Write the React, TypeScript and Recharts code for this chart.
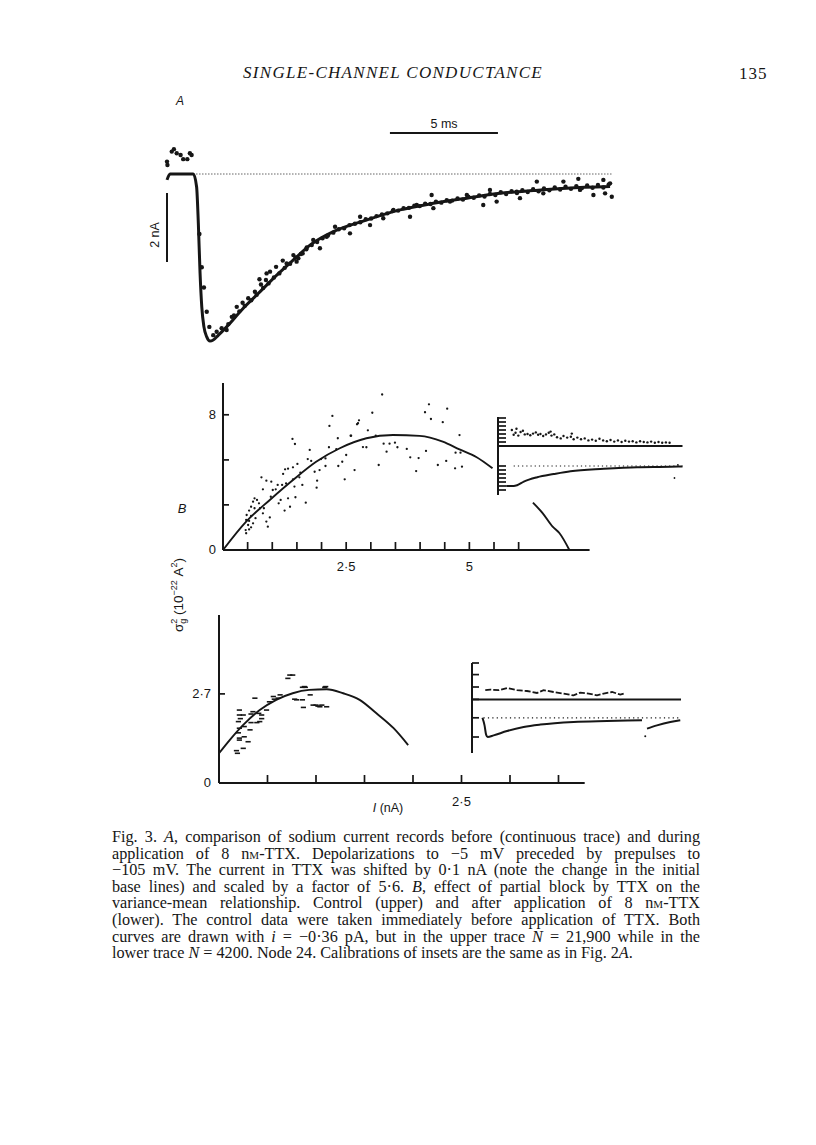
import React from "react";
import { ComposedChart, Line, Scatter, XAxis, YAxis, ReferenceLine } from "recharts";

// ---- Fig. 3A : current (nA) against time (ms) ----
const controlTrace: [number, number][] = [
  [0, -0.17], [0.14, 0], [1.22, 0], [1.37, -0.37], [1.45, -1.42], [1.53, -2.87], [1.61, -3.85],
  [1.71, -4.43], [1.84, -4.72], [1.99, -4.84], [2.14, -4.81], [2.38, -4.67], [2.76, -4.43],
  [3.53, -3.89], [4.31, -3.41], [5.08, -2.93], [5.85, -2.49], [6.62, -2.06], [7.7, -1.67],
  [9.25, -1.33], [10.79, -1.04], [12.33, -0.85], [13.88, -0.7], [15.42, -0.56], [16.96, -0.48],
  [18.5, -0.41], [20.51, -0.36],
];
const ttxDots: [number, number][] = [
  [0, 0.36], [0.02, 0.26], [0.22, 0.65], [0.32, 0.72], [0.45, 0.6], [0.63, 0.55], [0.75, 0.43],
  [0.94, 0.43], [1.06, 0.6], [1.14, 0.55],
  [1.5, -1.74], [1.61, -2.7], [1.71, -3.29], [1.84, -3.99], [1.96, -4.43], [2.14, -4.67],
  [2.3, -4.57], [2.53, -4.47], [2.76, -4.52], [2.84, -4.35], [3.0, -4.14],
  [3.23, -3.85], [3.5, -3.73], [3.76, -3.6], [4.07, -3.41], [4.28, -3.05], [4.35, -3.2],
  [4.58, -3.07], [4.61, -2.88], [4.77, -2.83], [5.05, -2.69], [5.36, -2.51], [5.54, -2.59],
  [5.85, -2.35], [6.0, -2.54], [6.08, -2.44], [6.28, -2.3], [6.47, -2.13], [6.77, -1.91],
  [7.08, -2.15], [7.39, -1.82], [7.78, -1.53], [8.47, -1.72], [8.94, -1.24], [9.4, -1.48],
  [10.01, -1.28], [10.48, -1.04], [11.25, -1.24], [11.56, -0.9], [12.25, -0.61], [12.33, -0.99],
  [13.1, -0.8], [13.88, -0.61], [14.64, -0.9], [14.95, -0.46], [15.26, -0.8], [16.19, -0.51],
  [16.34, -0.7], [17.12, -0.22], [17.42, -0.56], [18.35, -0.22], [19.04, -0.14], [19.12, -0.46],
  [19.74, -0.61], [20.2, -0.17], [20.28, -0.56], [20.51, -0.27], [20.59, -0.66],
  [3.1, -4.1], [3.35, -3.98], [3.6, -3.82], [3.9, -3.66], [4.15, -3.5], [4.45, -3.3],
  [4.7, -3.17], [4.95, -3.0], [5.2, -2.88], [5.45, -2.72], [5.7, -2.6], [5.95, -2.42],
  [6.2, -2.32], [6.45, -2.18], [6.7, -2.06], [6.95, -1.97], [7.2, -1.86], [7.45, -1.78],
  [7.7, -1.7], [7.95, -1.6], [8.2, -1.57], [8.45, -1.48], [8.7, -1.44], [8.95, -1.4],
  [9.2, -1.31], [9.45, -1.29], [9.7, -1.22], [9.95, -1.17], [10.2, -1.14], [10.45, -1.07],
  [10.7, -1.06], [10.95, -0.99], [11.2, -0.98], [11.45, -0.92], [11.7, -0.93], [11.95, -0.86],
  [12.2, -0.87], [12.45, -0.8], [12.7, -0.83], [12.95, -0.76], [13.2, -0.77], [13.45, -0.71],
  [13.7, -0.74], [13.95, -0.66], [14.2, -0.69], [14.45, -0.62], [14.7, -0.65], [14.95, -0.58],
  [15.2, -0.61], [15.45, -0.53], [15.7, -0.58], [15.95, -0.5], [16.2, -0.55], [16.45, -0.47],
  [16.7, -0.52], [16.95, -0.44], [17.2, -0.5], [17.45, -0.42], [17.7, -0.47], [17.95, -0.39],
  [18.2, -0.45], [18.45, -0.37], [18.7, -0.43], [18.95, -0.35], [19.2, -0.41], [19.45, -0.33],
  [19.7, -0.4], [19.95, -0.32], [20.2, -0.39], [20.45, -0.3],
];

// ---- Fig. 3B upper (control) : variance against mean current ----
const controlFitA: [number, number][] = [
  [0, 0], [0.47, 1.68], [0.95, 2.96], [1.42, 4.14], [1.89, 5.22], [2.37, 6.02], [2.91, 6.61],
  [3.45, 6.8], [3.99, 6.75], [4.46, 6.41], [4.8, 5.95], [5.14, 5.5], [5.47, 4.83],
];
const controlFitB: [number, number][] = [[6.29, 2.8], [6.49, 2.17], [6.69, 1.38], [6.83, 0.99], [7.03, 0]];
const controlVar: [number, number][] = [
  [2.22, 7.93], [2.16, 7.34], [1.41, 6.57], [1.46, 6.27], [2.33, 6.61], [1.76, 5.92], [2.15, 6.08],
  [2.3, 5.96], [2.5, 5.62], [2.59, 6.76], [2.74, 7.5], [1.72, 5.38], [1.79, 5.27], [1.99, 5.38],
  [2.08, 5.42], [2.08, 4.97], [1.96, 4.73], [1.86, 4.63], [1.91, 4.1], [1.9, 3.69], [2.42, 5.22],
  [2.67, 4.73], [2.47, 4.18], [1.51, 5.09], [1.42, 4.89], [1.32, 4.81], [1.26, 4.77], [1.22, 4.5],
  [1.57, 4.58], [1.55, 4.3], [1.61, 3.85], [1.45, 3.75], [1.42, 4.18], [1.28, 3.94], [1.2, 3.85],
  [1.11, 3.85], [1.07, 3.59], [0.98, 4.04], [1.01, 3.55], [0.88, 4.1], [0.81, 3.59], [0.78, 4.3],
  [0.97, 3.15], [1.32, 3.06], [1.47, 3.12], [1.36, 2.56], [1.25, 2.33], [1.17, 2.96], [1.13, 2.76],
  [1.68, 2.8], [0.64, 3.06], [0.61, 2.86], [0.69, 2.96], [0.73, 2.76], [0.57, 2.56], [0.64, 2.47],
  [0.75, 2.47], [0.83, 2.47], [0.81, 2.17], [0.53, 2.33], [0.48, 2.07], [0.57, 2.01], [0.66, 1.88],
  [0.47, 1.78], [0.53, 1.72], [0.61, 1.58], [0.51, 1.48], [0.57, 1.34], [0.46, 1.18], [0.47, 0.99],
  [0.53, 1.22], [0.88, 1.68], [0.95, 1.93], [0.91, 1.38],
  [3.23, 9.2], [3.03, 8.12], [2.76, 7.67], [2.72, 7.44], [2.94, 7.08], [2.6, 6.76], [3.1, 6.76],
  [3.26, 6.29], [3.38, 6.29], [3.49, 6.35], [3.54, 6.08], [3.32, 5.82], [2.84, 6.09], [2.91, 6.08],
  [3.16, 5.03], [3.73, 5.98], [3.8, 5.48], [3.97, 5.44], [3.92, 4.67], [4.1, 8.15], [4.18, 8.62],
  [4.22, 7.75], [4.55, 8.36], [4.46, 7.56], [4.12, 5.86], [4.36, 5.03], [4.53, 5.27], [4.8, 6.8],
  [4.72, 5.76], [4.82, 5.76], [4.71, 4.83], [4.85, 4.93], [2.34, 4.97],
];
const upperXTicks = [0.5, 1, 1.5, 2, 2.5, 3, 3.5, 4, 4.5, 5, 5.5, 6];
const upperYTicks = [0, 2.67, 5.33, 8];
const upperXLabels: Record<string, string> = { "2.5": "2·5", "5": "5" };
const upperYLabels: Record<string, string> = { "0": "0", "8": "8" };

// ---- Fig. 3B lower (8 nM-TTX) ----
const ttxFit: [number, number][] = [
  [0, 0.9], [0.11, 1.3], [0.25, 1.76], [0.42, 2.21], [0.59, 2.52], [0.76, 2.72], [0.93, 2.82],
  [1.11, 2.84], [1.28, 2.72], [1.45, 2.52], [1.62, 2.12], [1.8, 1.66], [1.95, 1.15],
];
const ttxVar: [number, number][] = [
  [0.73, 3.27], [0.71, 3.17], [0.76, 3.27], [0.88, 2.92], [0.86, 2.9], [0.89, 2.9], [1.1, 2.92],
  [1.09, 2.9], [0.94, 2.67], [0.8, 2.52], [0.86, 2.52], [0.78, 2.54], [1.0, 2.36], [0.97, 2.36],
  [1.04, 2.31], [1.06, 2.36], [1.11, 2.31], [0.87, 2.29], [1.02, 2.33], [0.63, 2.67], [0.57, 2.54],
  [0.52, 2.46], [0.56, 2.62], [0.61, 2.57], [0.37, 2.57], [0.21, 2.21], [0.25, 2.06], [0.21, 2.06],
  [0.22, 1.95], [0.2, 1.86], [0.35, 2.16], [0.33, 2.09], [0.41, 2.11], [0.44, 2.06], [0.44, 1.95],
  [0.42, 1.86], [0.39, 1.83], [0.49, 2.21], [0.33, 1.83], [0.26, 1.71], [0.21, 1.66], [0.2, 1.52],
  [0.32, 1.61], [0.21, 1.3], [0.21, 1.36], [0.26, 1.4], [0.3, 1.25], [0.25, 1.05], [0.18, 0.98],
  [0.19, 0.9],
];
const lowerXTicks = [0.5, 1, 1.5, 2, 2.5, 3, 3.5];
const lowerYTicks = [0, 2.7];
const lowerXLabels: Record<string, string> = { "2.5": "2·5" };
const lowerYLabels: Record<string, string> = { "0": "0", "2.7": "2·7" };

// ---- insets (time in ms, calibration units) ----
const inset1Var: [number, number][] = [
  [1.5, 16.0], [1.7, 14.8], [1.9, 15.3], [2.0, 16.3], [2.2, 14.6], [2.45, 15.5], [2.7, 15.8],
  [2.9, 14.9], [3.2, 15.0], [3.5, 14.7], [3.8, 15.1], [4.1, 15.4], [4.35, 14.8], [4.6, 15.0],
  [4.9, 14.5], [5.2, 14.9], [5.5, 15.3], [5.7, 15.6], [5.8, 14.6], [6.1, 14.9], [6.4, 14.2],
  [6.8, 13.9], [7.1, 14.5], [7.5, 14.1], [7.9, 14.3], [8.0, 15.1], [8.2, 13.7], [8.6, 14.1],
  [9.0, 13.7], [9.4, 13.9], [9.8, 13.4], [10.2, 13.6], [10.6, 13.3], [11.0, 13.8], [11.4, 13.4],
  [11.8, 13.2], [12.2, 13.5], [12.6, 13.1], [13.0, 13.4], [13.4, 13.0], [13.8, 13.3], [14.2, 13.1],
  [14.6, 13.2], [15.0, 12.9], [15.4, 13.2], [15.8, 13.0], [16.2, 12.9], [16.6, 13.1], [17.0, 12.8],
  [17.4, 13.0], [17.8, 12.8], [18.2, 12.9], [18.6, 12.8],
];
const inset1Cur: [number, number][] = [
  [0.89, 2.0], [1.71, 2.0], [2.08, 2.2], [2.8, 3.1], [4.25, 4.2], [6.05, 5.0], [7.86, 5.7],
  [11.47, 6.3], [15.09, 6.7], [18.7, 6.8], [20, 6.9],
];
const inset1Stray: [number, number][] = [[19.13, 4.0], [19.5, 7.3]];
const inset1Ticks = [0, 1, 2, 3, 4, 5, 6, 7, 12, 13, 14, 15, 16, 17, 18, 19];

const inset2Var: [number, number][] = [
  [1.27, 15.7], [1.75, 15.85], [2.55, 15.7], [3.35, 16.25], [4.3, 15.7], [5.26, 15.5], [6.22, 15.0],
  [6.85, 15.7], [7.8, 15.25], [8.77, 14.85], [9.72, 14.4], [10.36, 15.1], [11.16, 14.85],
  [11.96, 14.4], [12.6, 14.85], [13.4, 15.25], [14.19, 14.6], [14.67, 15.0],
];
const inset2CurA: [number, number][] = [
  [1.0, 8.8], [1.2, 6.9], [1.35, 4.6], [1.5, 4.0], [2.07, 4.4], [3.35, 5.5], [4.94, 6.5],
  [6.54, 7.1], [9.72, 7.75], [12.92, 8.0], [16.27, 8.2],
];
const inset2CurB: [number, number][] = [[16.75, 6.1], [17.7, 6.9], [18.98, 7.75], [19.93, 8.2]];
const inset2Stray: [number, number][] = [[16.58, 4.2]];
const inset2Ticks = [4, 8.8, 13.4, 16.5, 19.6, 22.5];

const pts = (a: [number, number][]) => a.map(([x, y]) => ({ x, y }));
const ink = "#161616";
const sans = "'Liberation Sans', Arial, sans-serif";

const dot = (r: number) => (p: any) => <circle cx={p.cx} cy={p.cy} r={r} fill={ink} />;
const dash = (p: any) => <rect x={p.cx - 2.6} y={p.cy - 0.8} width={5.2} height={1.6} fill={ink} />;

const bottomTick = (len: number, labels: Record<string, string>, dy: number) => (p: any) => {
  const lab = labels[String(p.payload.value)];
  return (
    <g>
      <line x1={p.x} y1={p.y} x2={p.x} y2={p.y - len} stroke={ink} strokeWidth={1.7} />
      {lab && (
        <text x={p.x} y={p.y + dy} textAnchor="middle" fontSize={13} fontFamily={sans} fill={ink}>
          {lab}
        </text>
      )}
    </g>
  );
};
const leftTick = (len: number, labels: Record<string, string>, dx: number) => (p: any) => {
  const lab = labels[String(p.payload.value)];
  return (
    <g>
      {p.payload.value !== 0 && len > 0 && (
        <line x1={p.x} y1={p.y} x2={p.x + len} y2={p.y} stroke={ink} strokeWidth={1.7} />
      )}
      {lab && (
        <text x={p.x - dx} y={p.y + 4.5} textAnchor="end" fontSize={13} fontFamily={sans} fill={ink}>
          {lab}
        </text>
      )}
    </g>
  );
};

const Txt = ({ x, y, children, style }: any) => (
  <div
    style={{
      position: "absolute", left: x, top: y, transform: "translate(-50%, -50%)",
      whiteSpace: "nowrap", lineHeight: 1, color: ink, fontFamily: sans, fontSize: 12, ...style,
    }}
  >
    {children}
  </div>
);

const captionLines = [
  <>Fig. 3. <i>A</i>, comparison of sodium current records before (continuous trace) and during</>,
  <>application of 8 n<span style={{ fontVariant: "small-caps" }}>m</span>-TTX. Depolarizations to −5 mV preceded by prepulses to</>,
  <>−105 mV. The current in TTX was shifted by 0·1 nA (note the change in the initial</>,
  <>base lines) and scaled by a factor of 5·6. <i>B</i>, effect of partial block by TTX on the</>,
  <>variance-mean relationship. Control (upper) and after application of 8 n<span style={{ fontVariant: "small-caps" }}>m</span>-TTX</>,
  <>(lower). The control data were taken immediately before application of TTX. Both</>,
  <>curves are drawn with <i>i</i> = −0·36 pA, but in the upper trace <i>N</i> = 21,900 while in the</>,
  <>lower trace <i>N</i> = 4200. Node 24. Calibrations of insets are the same as in Fig. 2<i>A</i>.</>,
];

export default function App() {
  return (
    <div style={{ position: "absolute", left: 0, top: 0, width: 816, height: 1145, background: "#fff" }}>
      {/* running head */}
      <div style={{ position: "absolute", left: 243, top: 64, fontFamily: "'Liberation Serif', serif", fontStyle: "italic", fontSize: 17, letterSpacing: 1.3, color: ink, lineHeight: 1, whiteSpace: "nowrap" }}>
        SINGLE-CHANNEL CONDUCTANCE
      </div>
      <div style={{ position: "absolute", left: 739, top: 65, fontFamily: "'Liberation Serif', serif", fontSize: 17, letterSpacing: 1, color: ink, lineHeight: 1 }}>
        135
      </div>

      {/* panel A */}
      <Txt x={180} y={101} style={{ fontStyle: "italic" }}>A</Txt>
      <Txt x={444} y={124} style={{ fontSize: 12.5 }}>5 ms</Txt>
      <Txt x={155} y={235} style={{ transform: "translate(-50%, -50%) rotate(-90deg)", fontSize: 12.5 }}>2 nA</Txt>
      <div style={{ position: "absolute", left: 161, top: 109 }}>
        <ComposedChart width={457} height={247} margin={{ top: 6, right: 6, bottom: 6, left: 6 }}>
          <XAxis type="number" dataKey="x" domain={[0, 20.6]} hide height={0} />
          <YAxis type="number" dataKey="y" domain={[-5.1, 1.71]} hide width={0} />
          <ReferenceLine segment={[{ x: 1.22, y: 0 }, { x: 20.6, y: 0 }]} stroke={ink} strokeWidth={1} strokeDasharray="1 2" />
          <ReferenceLine segment={[{ x: 10.32, y: 1.19 }, { x: 15.32, y: 1.19 }]} stroke={ink} strokeWidth={2} />
          <ReferenceLine segment={[{ x: 0, y: -0.55 }, { x: 0, y: -2.55 }]} stroke={ink} strokeWidth={2} />
          <Line data={pts(controlTrace)} dataKey="y" type="monotone" stroke={ink} strokeWidth={3} dot={false} activeDot={false} isAnimationActive={false} />
          <Scatter data={pts(ttxDots)} dataKey="y" shape={dot(2.2)} isAnimationActive={false} />
        </ComposedChart>
      </div>

      {/* panel B upper */}
      <Txt x={182} y={508} style={{ fontStyle: "italic", fontSize: 13 }}>B</Txt>
      <div style={{ position: "absolute", left: 183.4, top: 379 }}>
        <ComposedChart width={410.6} height={201} margin={{ top: 4, right: 4, bottom: 0, left: 0 }}>
          <XAxis type="number" dataKey="x" domain={[0, 7.44]} ticks={upperXTicks} interval={0} height={30}
            axisLine={{ stroke: ink, strokeWidth: 2 }} tickLine={false} tickSize={0} tickMargin={0}
            tick={bottomTick(8, upperXLabels, 21)} />
          <YAxis type="number" dataKey="y" domain={[0, 9.88]} ticks={upperYTicks} interval={0} width={40}
            axisLine={{ stroke: ink, strokeWidth: 2 }} tickLine={false} tickSize={0} tickMargin={0}
            tick={leftTick(6, upperYLabels, 7)} />
          <Line data={pts(controlFitA)} dataKey="y" type="monotone" stroke={ink} strokeWidth={1.9} dot={false} activeDot={false} isAnimationActive={false} />
          <Line data={pts(controlFitB)} dataKey="y" type="monotone" stroke={ink} strokeWidth={1.9} dot={false} activeDot={false} isAnimationActive={false} />
          <Scatter data={pts(controlVar)} dataKey="y" shape={dot(1.15)} isAnimationActive={false} />
        </ComposedChart>
      </div>

      {/* upper inset */}
      <div style={{ position: "absolute", left: 491.5, top: 414 }}>
        <ComposedChart width={193.5} height={84} margin={{ top: 3, right: 3, bottom: 3, left: 2 }}>
          <XAxis type="number" dataKey="x" domain={[0, 20]} hide height={0} />
          <YAxis type="number" dataKey="y" domain={[-0.25, 19.25]} ticks={inset1Ticks} interval={0} width={4}
            axisLine={{ stroke: ink, strokeWidth: 2 }} tickLine={false} tickSize={0} tickMargin={0}
            tick={leftTick(8, {}, 0)} />
          <ReferenceLine y={12} stroke={ink} strokeWidth={2} />
          <ReferenceLine segment={[{ x: 1.7, y: 7 }, { x: 20, y: 7 }]} stroke={ink} strokeWidth={1.2} strokeDasharray="1.2 3" />
          <Line data={pts(inset1Cur)} dataKey="y" type="monotone" stroke={ink} strokeWidth={2} dot={false} activeDot={false} isAnimationActive={false} />
          <Scatter data={pts(inset1Var)} dataKey="y" shape={dot(1.2)} isAnimationActive={false} />
          <Scatter data={pts(inset1Stray)} dataKey="y" shape={dot(0.9)} isAnimationActive={false} />
        </ComposedChart>
      </div>

      {/* y label */}
      <Txt x={179} y={595} style={{ transform: "translate(-50%, -50%) rotate(-90deg)", fontSize: 13.5 }}>
        σ<span style={{ display: "inline-block", fontSize: 9, lineHeight: "9px", verticalAlign: "middle", textAlign: "center" }}>2<br />g</span> (10<sup style={{ fontSize: 9 }}>−22</sup> A<sup style={{ fontSize: 9 }}>2</sup>)
      </Txt>

      {/* panel B lower */}
      <div style={{ position: "absolute", left: 179.3, top: 611 }}>
        <ComposedChart width={409.7} height={202} margin={{ top: 4, right: 4, bottom: 0, left: 0 }}>
          <XAxis type="number" dataKey="x" domain={[0, 3.77]} ticks={lowerXTicks} interval={0} height={30}
            axisLine={{ stroke: ink, strokeWidth: 2 }} tickLine={false} tickSize={0} tickMargin={0}
            tick={bottomTick(8, lowerXLabels, 23)} />
          <YAxis type="number" dataKey="y" domain={[0, 5.09]} ticks={lowerYTicks} interval={0} width={40}
            axisLine={{ stroke: ink, strokeWidth: 2 }} tickLine={false} tickSize={0} tickMargin={0}
            tick={leftTick(6, lowerYLabels, 8)} />
          <Line data={pts(ttxFit)} dataKey="y" type="monotone" stroke={ink} strokeWidth={1.9} dot={false} activeDot={false} isAnimationActive={false} />
          <Scatter data={pts(ttxVar)} dataKey="y" shape={dash} isAnimationActive={false} />
        </ComposedChart>
      </div>

      {/* lower inset */}
      <div style={{ position: "absolute", left: 465.7, top: 659.7 }}>
        <ComposedChart width={218} height={96} margin={{ top: 3, right: 3, bottom: 3, left: 2 }}>
          <XAxis type="number" dataKey="x" domain={[0, 20]} hide height={0} />
          <YAxis type="number" dataKey="y" domain={[0, 22.5]} ticks={inset2Ticks} interval={0} width={4}
            axisLine={{ stroke: ink, strokeWidth: 2 }} tickLine={false} tickSize={0} tickMargin={0}
            tick={leftTick(7, {}, 0)} />
          <ReferenceLine y={13.4} stroke={ink} strokeWidth={2} />
          <ReferenceLine segment={[{ x: 1.1, y: 8.8 }, { x: 20, y: 8.8 }]} stroke={ink} strokeWidth={1.2} strokeDasharray="1.2 3.2" />
          <Line data={pts(inset2Var)} dataKey="y" type="linear" stroke={ink} strokeWidth={1.8} strokeDasharray="6 2" dot={false} activeDot={false} isAnimationActive={false} />
          <Line data={pts(inset2CurA)} dataKey="y" type="monotone" stroke={ink} strokeWidth={2} dot={false} activeDot={false} isAnimationActive={false} />
          <Line data={pts(inset2CurB)} dataKey="y" type="monotone" stroke={ink} strokeWidth={2} dot={false} activeDot={false} isAnimationActive={false} />
          <Scatter data={pts(inset2Stray)} dataKey="y" shape={dot(1)} isAnimationActive={false} />
        </ComposedChart>
      </div>

      <Txt x={388} y={808} style={{ fontSize: 12.5 }}><i>I</i> (nA)</Txt>

      {/* caption */}
      <div style={{ position: "absolute", left: 112, top: 829, width: 588, fontFamily: "'Liberation Serif', serif", fontSize: 16.2, color: ink }}>
        {captionLines.map((l, i) => (
          <div key={i} style={{ height: 16.6, lineHeight: "16.6px", textAlign: "justify", textAlignLast: i === captionLines.length - 1 ? "left" : "justify", whiteSpace: "nowrap" }}>
            {l}
          </div>
        ))}
      </div>
    </div>
  );
}
